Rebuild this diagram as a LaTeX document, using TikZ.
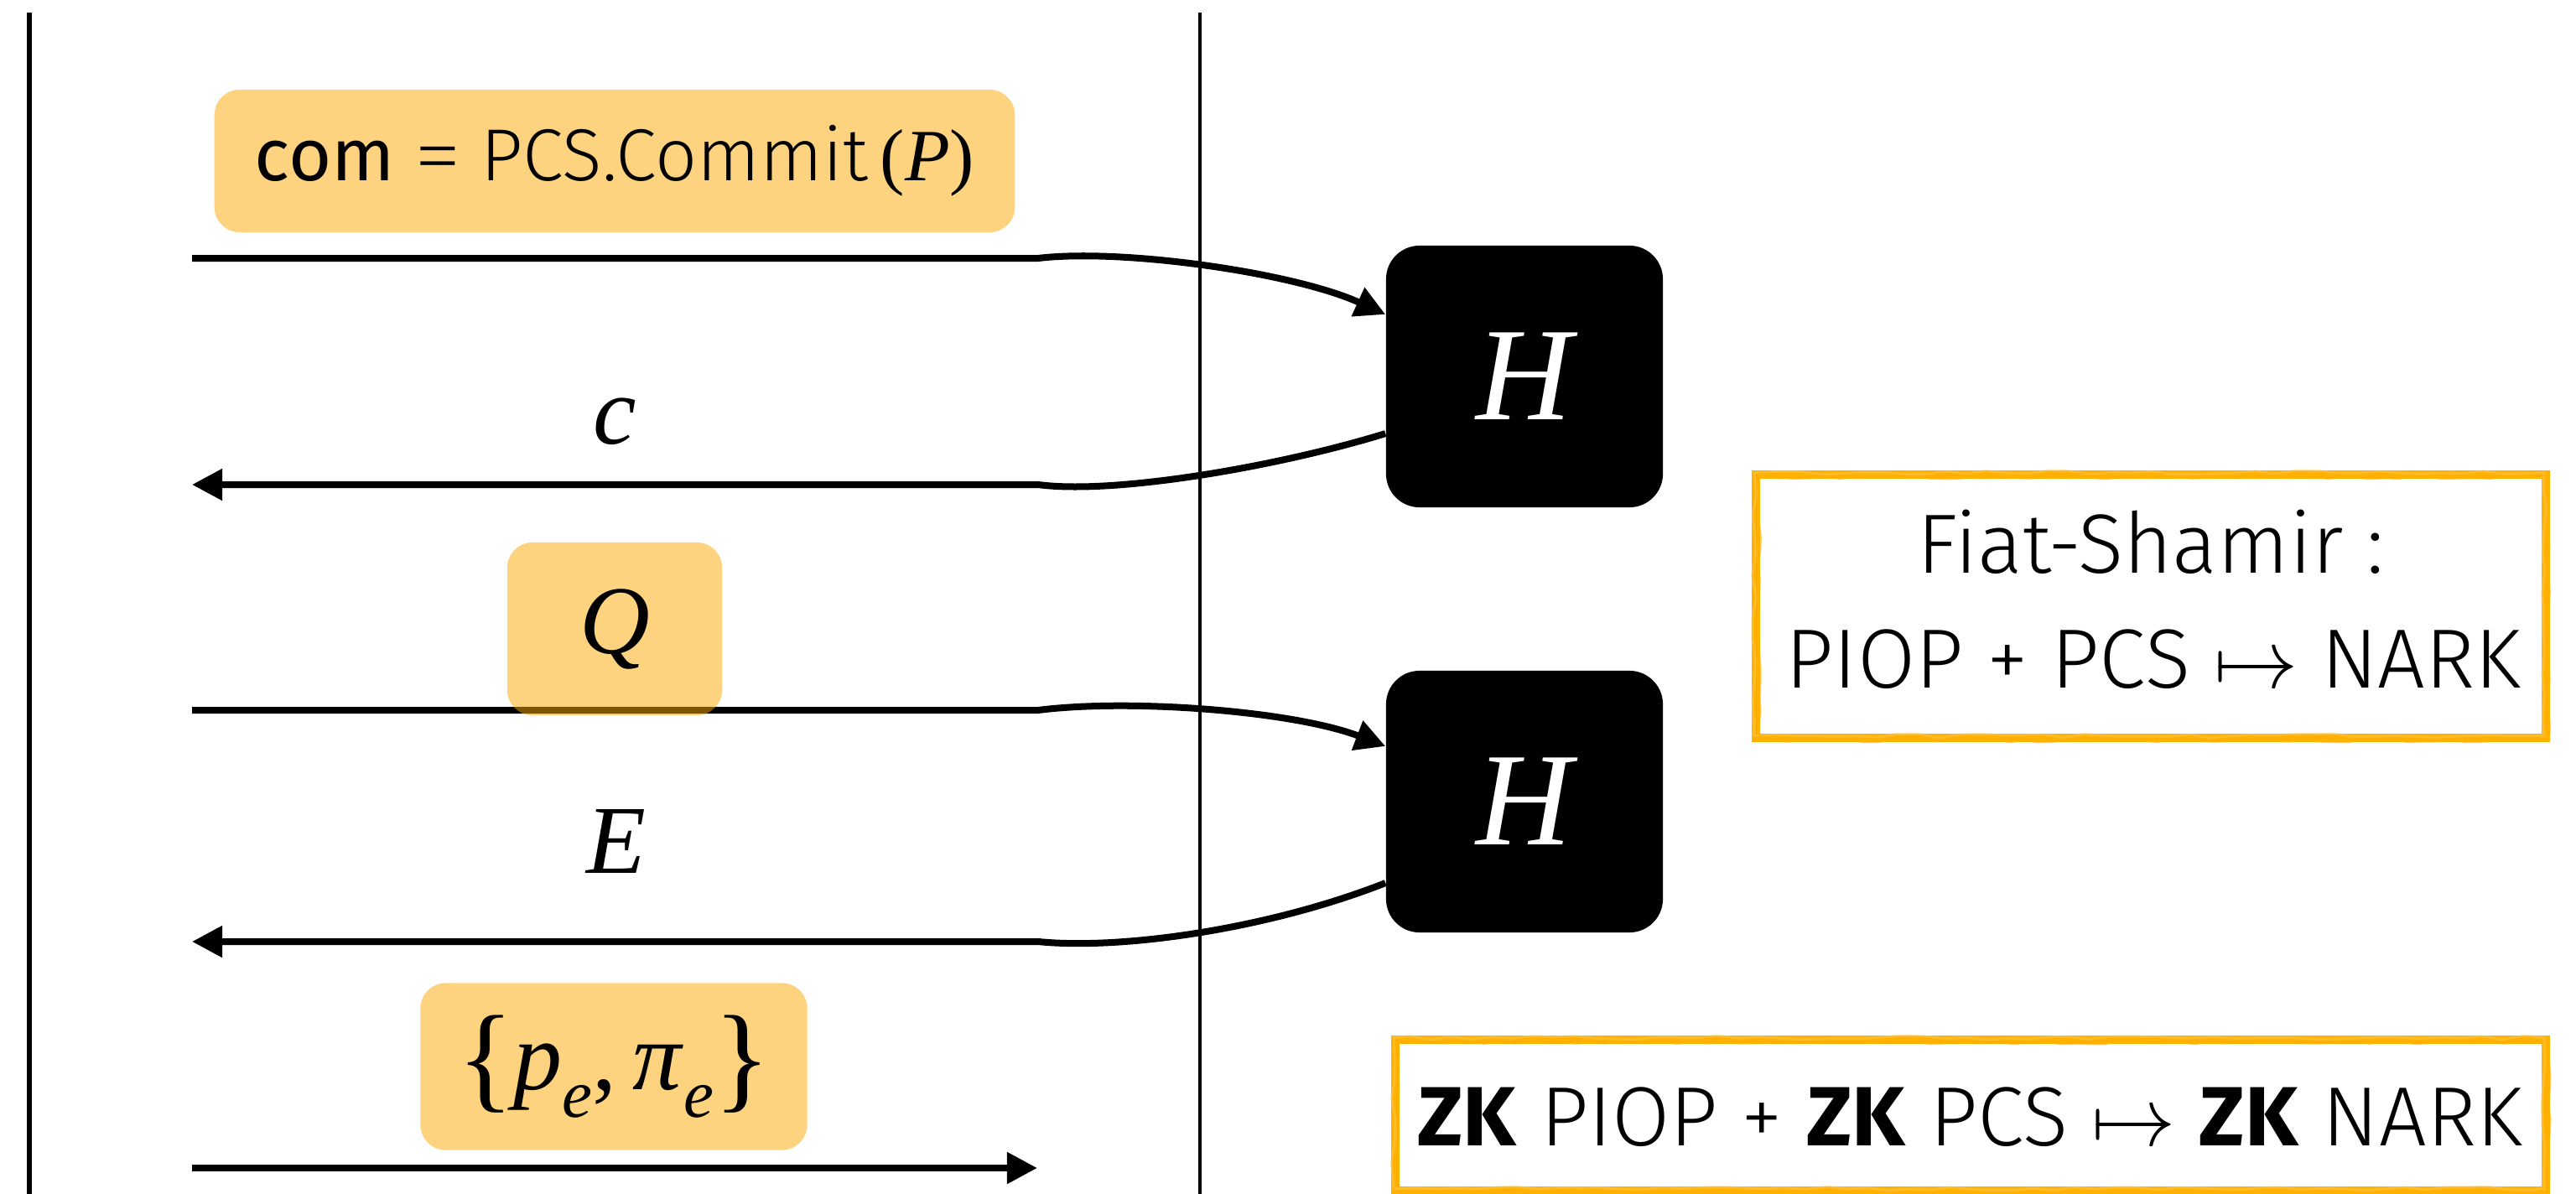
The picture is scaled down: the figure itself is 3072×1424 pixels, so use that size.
\documentclass[tikz,border=0pt]{standalone}
\usepackage{fix-cm}
\usepackage{fontspec}
\usetikzlibrary{arrows.meta,decorations.pathmorphing}
\newfontfamily\lightsans{Fira Sans Light}[BoldFont={Fira Sans Bold}]
\newfontfamily\regsans{Fira Sans}
\newfontfamily\serifit{Liberation Serif}
\definecolor{tagorange}{RGB}{251,168,0}
\definecolor{brushorange}{RGB}{255,176,0}

\tikzset{
  msg/.style={line width=0.08cm},
  tipend/.style={-{Triangle[length=0.36cm,width=0.36cm]}},
  lifeline/.style={line width=0.05cm},
  hashbox/.style={fill=black, rounded corners=0.4cm, minimum width=3.3cm,
    minimum height=3.12cm, inner sep=0pt, text=white,
    font=\serifit\itshape\fontsize{45}{45}\selectfont},
  tag/.style={fill=tagorange, fill opacity=0.5, text opacity=1,
    rounded corners=0.3cm, inner sep=0pt},
  mathlbl/.style={font=\serifit\itshape\fontsize{33}{33}\selectfont, inner sep=0pt},
  brush/.style={draw=brushorange, line width=0.1cm},
  claim/.style={anchor=base, inner sep=0pt, font=\lightsans\fontsize{28.5}{28.5}\selectfont},
}

% hand-brushed orange frame
\newcommand{\brushframe}[2]{%
  \draw[brush] #1 rectangle #2;
  \draw[brushorange, line width=0.04cm, opacity=0.6, decorate,
    decoration={random steps, segment length=5pt, amplitude=0.7pt},
    xshift=0.025cm, yshift=-0.02cm] #1 rectangle #2;
  \draw[brushorange!70, line width=0.03cm, opacity=0.5, decorate,
    decoration={random steps, segment length=7pt, amplitude=0.7pt},
    xshift=-0.02cm, yshift=0.025cm] #1 rectangle #2;
}

\begin{document}
\pgfmathsetseed{7}
\begin{tikzpicture}[x=0.01cm, y=-0.01cm]
\useasboundingbox (0,0) rectangle (3072,1424);

% prover / verifier lifelines
\coordinate (ltop) at (35,15);   \coordinate (lbot) at (35,1424);
\coordinate (mtop) at (1431,15); \coordinate (mbot) at (1431,1424);
\draw[lifeline] (ltop) -- (lbot);
\draw[lifeline, line width=0.045cm] (mtop) -- (mbot);

% random oracles
\node[hashbox] (h1) at (1818,449) {H};
\node[hashbox] (h2) at (1818,956) {H};

% message end points
\coordinate (m1s) at (229,308);  \coordinate (m1e) at (1238,308);
\coordinate (m2s) at (229,578);  \coordinate (m2e) at (1238,578);
\coordinate (m3s) at (229,847);  \coordinate (m3e) at (1238,847);
\coordinate (m4s) at (229,1123); \coordinate (m4e) at (1238,1123);
\coordinate (m5s) at (229,1393); \coordinate (m5e) at (1237,1393);

% messages routed through the hash
\draw[msg, tipend] (m1s) -- (m1e) .. controls +(100,-12) and +(-110,-50) .. ([yshift=0.74cm]h1.west);
\draw[msg, tipend] ([yshift=-0.68cm]h1.west) .. controls +(-130,40) and +(90,12) .. (m2e) -- (m2s);
\draw[msg, tipend] (m3s) -- (m3e) .. controls +(110,-14) and +(-110,-42) .. ([yshift=0.66cm]h2.west);
\draw[msg, tipend] ([yshift=-0.97cm]h2.west) .. controls +(-140,55) and +(100,10) .. (m4e) -- (m4s);
\draw[msg, tipend] (m5s) -- (m5e);

% message contents
\node[tag, minimum width=9.54cm, minimum height=1.7cm,
  font=\fontsize{25}{30}\selectfont] (commit) at (733,192)
  {{\regsans com} {\serifit =} {\lightsans PCS.Commit}\,{\serifit(\textit{P})}};
\node[mathlbl] (clbl) at (733,503) {c};
\node[tag, mathlbl, minimum width=2.56cm, minimum height=2.06cm] (qtag) at (733,750) {Q};
\node[mathlbl] (elbl) at (735,1003) {E};
\node[tag, minimum width=4.61cm, minimum height=1.99cm,
  font=\serifit\fontsize{33}{33}\selectfont] (ptag) at (732,1272)
  {\raisebox{-0.08em}{\fontsize{40}{40}\selectfont\{}\textit{p}\raisebox{-0.28em}{\fontsize{23}{23}\selectfont\textit{e}},\,\textit{π}\raisebox{-0.28em}{\fontsize{23}{23}\selectfont\textit{e}}\raisebox{-0.08em}{\fontsize{40}{40}\selectfont\}}};

% compiler statements
\brushframe{(2094,566)}{(3036,880)}
\node[claim] (fs1) at (2565,683) {Fiat-Shamir :};
\node[claim] (fs2) at (2568,820) {PIOP + PCS $\mapsto$ NARK};

\brushframe{(1664,1240)}{(3036,1420)}
\node[claim] (zk) at (2349,1366) {\textbf{ZK} PIOP + \textbf{ZK} PCS $\mapsto$ \textbf{ZK} NARK};
\end{tikzpicture}
\end{document}
